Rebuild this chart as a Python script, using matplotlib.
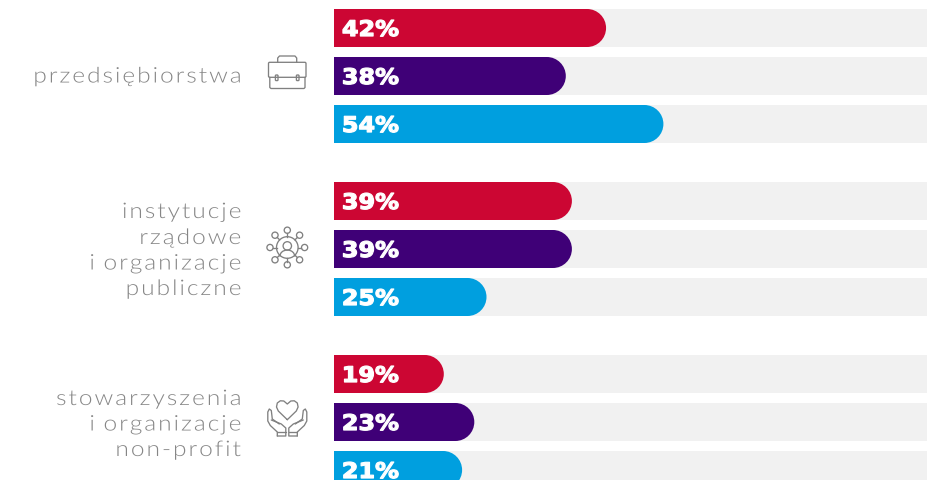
import matplotlib
matplotlib.use("Agg")
import matplotlib.pyplot as plt
import numpy as np
from matplotlib.path import Path
from matplotlib.patches import PathPatch, Circle, Arc, FancyBboxPatch
from matplotlib.patheffects import AbstractPathEffect
from matplotlib.transforms import Affine2D

# ---- data ----
category_lines = [["przedsiębiorstwa"],
                  ["instytucje", "rządowe", "i organizacje", "publiczne"],
                  ["stowarzyszenia", "i organizacje", "non-profit"]]
percent_labels = [[42, 38, 54], [39, 39, 25], [19, 23, 21]]
bar_lengths = [[44.6, 38, 54], [39, 39, 25], [18, 23, 21]]
series_colors = ["#CC0633", "#3F0077", "#009FDF"]
track_value = 100

# ---- layout (pixels) ----
W, H = 928, 481
X0, PX_PER_UNIT = 334, 6.1
BAR_H = 38
group_tops = [10, 183, 356]
row_pitch = 48
label_right = 241
line_centers = [[75.5], [211, 237, 262.5, 288], [398, 423.5, 449]]
GREY = "#868686"
ICON = "#808080"


class Spaced(AbstractPathEffect):
    """Letter-spacing, horizontal widening and optional emboldening of a glyph run."""
    def __init__(self, sx, spacing=0.0, anchor="right", stroke=0.0):
        super().__init__()
        self.sx, self.spacing, self.anchor, self.stroke = sx, spacing, anchor, stroke

    def draw_path(self, renderer, gc, tpath, affine, rgbFace=None):
        v = np.array(tpath.vertices, dtype=float)
        c = np.array(tpath.codes)
        starts = list(np.where(c == Path.MOVETO)[0]) + [len(v)]
        subs = sorted((v[a:b, 0].min(), v[a:b, 0].max(), a, b)
                      for a, b in zip(starts[:-1], starts[1:]))
        groups = []
        for lo, hi, a, b in subs:
            if groups and lo < groups[-1][0]:
                groups[-1][0] = max(groups[-1][0], hi)
                groups[-1][1].append((a, b))
            else:
                groups.append([hi, [(a, b)]])
        n = len(groups)
        for i, (_, spans) in enumerate(groups):
            k = (i - (n - 1)) if self.anchor == "right" else i
            for a, b in spans:
                v[a:b, 0] += k * self.spacing
        new = Path(v, c)
        ext = new.get_extents()
        e = ext.xmax if self.anchor == "right" else ext.xmin
        t = Affine2D().translate(-e, 0).scale(self.sx, 1).translate(e, 0)
        if self.stroke:
            gc0 = renderer.new_gc()
            gc0.copy_properties(gc)
            gc0.set_linewidth(self.stroke)
            gc0.set_foreground(rgbFace)
            renderer.draw_path(gc0, new, t + affine, rgbFace)
            gc0.restore()
        else:
            renderer.draw_path(gc, new, t + affine, rgbFace)


fig = plt.figure(figsize=(W / 100, H / 100), dpi=100)
ax = fig.add_axes([0, 0, 1, 1])
ax.set_xlim(-X0 / PX_PER_UNIT, (W - X0) / PX_PER_UNIT)
ax.set_ylim(H, 0)
ax.axis("off")


def pill(value, ytop, color):
    r = BAR_H / 2
    rx = r / PX_PER_UNIT
    k = 0.5523
    yb = ytop + BAR_H
    xs = value - rx
    verts = [(0, ytop), (xs, ytop),
             (xs + k * rx, ytop), (value, ytop + r - k * r), (value, ytop + r),
             (value, ytop + r + k * r), (xs + k * rx, yb), (xs, yb),
             (0, yb), (0, ytop)]
    codes = [Path.MOVETO, Path.LINETO, Path.CURVE4, Path.CURVE4, Path.CURVE4,
             Path.CURVE4, Path.CURVE4, Path.CURVE4, Path.LINETO, Path.CLOSEPOLY]
    ax.add_patch(PathPatch(Path(verts, codes), fc=color, ec="none", zorder=2))


for g, top in enumerate(group_tops):
    for i in range(3):
        y = top + i * row_pitch
        ax.barh(y + BAR_H / 2, track_value, height=BAR_H, color="#F1F1F1", zorder=1)
        pill(bar_lengths[g][i], y, series_colors[i])
        ax.text(8 / PX_PER_UNIT, y + BAR_H / 2, f"{percent_labels[g][i]}%",
                color="white", family="DejaVu Sans", weight="bold", fontsize=15.5,
                ha="left", va="center_baseline", zorder=3,
                path_effects=[Spaced(1.11, 0, "left", stroke=0.9)])
    for line, yc in zip(category_lines[g], line_centers[g]):
        ax.text((label_right - X0) / PX_PER_UNIT, yc, line, color=GREY,
                family="Lato", weight=300, fontsize=15.5, ha="right",
                va="center_baseline", path_effects=[Spaced(1.14, 8, "right")])

# ---- icons, overlay in pixel space ----
ov = fig.add_axes([0, 0, 1, 1], facecolor="none")
ov.set_xlim(0, W)
ov.set_ylim(H, 0)
ov.axis("off")
LW = 0.95


def poly(pts, closed=False):
    xs = [p[0] for p in pts]
    ys = [p[1] for p in pts]
    if closed:
        xs.append(xs[0])
        ys.append(ys[0])
    ov.plot(xs, ys, color=ICON, lw=LW, solid_capstyle="round", solid_joinstyle="round")


def rrect(x, y, w, h, r=1.2):
    ov.add_patch(FancyBboxPatch((x + r, y + r), w - 2 * r, h - 2 * r,
                                boxstyle=f"round,pad={r},rounding_size={r}",
                                fc="none", ec=ICON, lw=LW))


# briefcase
rrect(268.5, 63.3, 37.5, 15)
poly([(269.8, 78.3), (269.8, 88.5), (271, 89.5), (304, 89.5), (305, 88.5), (305, 78.3)])
poly([(277.7, 63.3), (277.7, 59), (279.5, 57), (295, 57), (296.7, 59), (296.7, 63.3)])
rrect(275.4, 76, 2.6, 5.6, 0.8)
rrect(296.4, 76, 2.6, 5.6, 0.8)

# network of people
cx, cy = 287.3, 248.5
ov.add_patch(Circle((cx, cy), 10.8, fc="none", ec=ICON, lw=LW))
ov.add_patch(Circle((cx, cy - 1.6), 4.2, fc="none", ec=ICON, lw=LW))
ov.add_patch(Arc((cx, cy + 9), 15, 13, theta1=180, theta2=360, ec=ICON, lw=LW))
for dx, dy in [(0, -17.3), (12.3, -12.3), (17.3, 0), (12.3, 12.3),
               (0, 17.3), (-12.3, 12.3), (-17.3, 0), (-12.3, -12.3)]:
    ov.add_patch(Circle((cx + dx, cy + dy), 3.1, fc="none", ec=ICON, lw=LW))
    ov.plot([cx + dx * 0.62, cx + dx * 0.82], [cy + dy * 0.62, cy + dy * 0.82],
            color=ICON, lw=LW)

# hands and heart
hx = 287.3
heart = [(0, 420.7), (-9, 412), (-10.8, 408), (-10, 404), (-7, 401.8), (-3.5, 402),
         (0, 405), (3.5, 402), (7, 401.8), (10, 404), (10.8, 408), (9, 412)]
poly([(hx + a, b) for a, b in heart], closed=True)
hand = [(-10, 437), (-10, 433), (-17, 426.5), (-19.5, 422), (-19.5, 413),
        (-18, 410), (-16, 411.5), (-15, 420), (-8, 425)]
hand2 = [(-16, 421), (-6, 425), (-1.5, 429), (-1.5, 437), (-10, 437)]
for s in (-1, 1):
    poly([(hx + s * a, b) for a, b in hand])
    poly([(hx + s * a, b) for a, b in hand2])
    poly([(hx + s * -10, 433), (hx + s * -1.5, 433)])

fig.savefig("out.png", dpi=100)
